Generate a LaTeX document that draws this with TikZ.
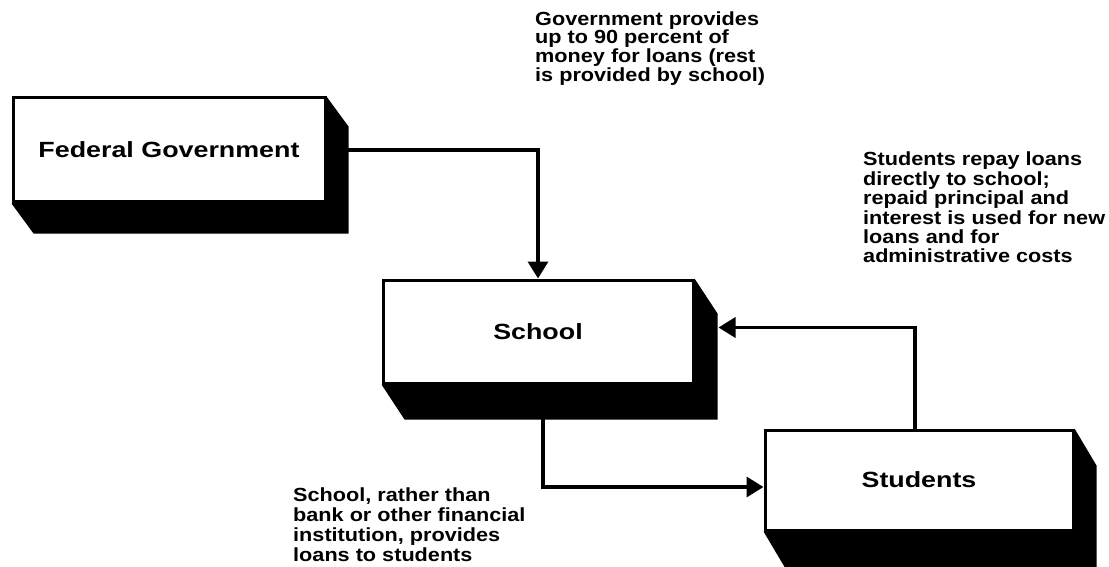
\documentclass[tikz,border=0pt]{standalone}
\usepackage{fontspec}
\newfontfamily\hv[FakeStretch=1.14]{Liberation Sans}
\newfontfamily\hvbox[FakeStretch=1.22]{Liberation Sans}
\usetikzlibrary{arrows.meta,calc}
\newcommand\dropshade[3]{%
  \fill[black] (#1.north east) -- ($(#1.north east)+(#2,#3)$) -- ($(#1.south east)+(#2,#3)$)
    -- ($(#1.south west)+(#2,#3)$) -- (#1.south west) -- (#1.south east) -- cycle;}
\begin{document}
\begin{tikzpicture}[x=1pt,y=-1pt,
  box/.style={draw, line width=3pt, fill=white, inner sep=0pt,
    font=\hvbox\bfseries\fontsize{22}{22}\selectfont},
  lbl/.style={align=left, inner sep=0pt, anchor=north west},
  conn/.style={line width=3.5pt, -{Triangle[width=20pt,length=17pt]}}]
\useasboundingbox (0,0) rectangle (1109,567);
\fill[white] (0,0) rectangle (1109,567);

\node[box, minimum width=312pt, minimum height=104pt] (fg) at (169,150) {Federal Government};
\node[box, minimum width=310pt, minimum height=103pt] (school) at (538,331.5) {School};
\node[box, minimum width=308pt, minimum height=100pt] (students) at (919,480) {Students};

\dropshade{fg}{22}{30}
\dropshade{school}{23}{35}
\dropshade{students}{22}{37}

\draw[conn] (fg.east) -| (school.north);
\draw[conn] ($(school.south)+(5,0)$) |- ($(students.west)+(0,7)$);
\draw[conn, shorten >=24pt] ($(students.north)+(-4,0)$) |- ($(school.east)+(0,-4)$);

\node[lbl, font=\hv\bfseries\fontsize{19}{17.3}\selectfont] (lgov) at (535,11.2)
  {Government provides\\up to 90 percent of\\money for loans (rest\\is provided by school)};
\node[lbl, font=\hv\bfseries\fontsize{19}{19.4}\selectfont] (lrepay) at (863,152)
  {Students repay loans\\directly to school;\\repaid principal and\\interest is used for new\\loans and for\\administrative costs};
\node[lbl, font=\hv\bfseries\fontsize{19}{19.7}\selectfont] (lschool) at (293,488)
  {School, rather than\\bank or other financial\\institution, provides\\loans to students};
\end{tikzpicture}
\end{document}
